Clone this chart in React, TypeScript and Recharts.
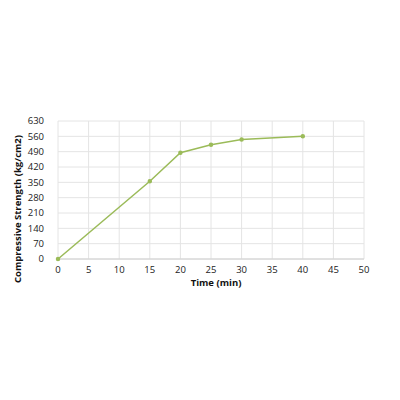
import { LineChart, Line, XAxis, YAxis, CartesianGrid } from 'recharts';

const times = [0, 15, 20, 25, 30, 40];
const strength = [0, 355, 485, 522, 546, 560];
const xTicks = [0, 5, 10, 15, 20, 25, 30, 35, 40, 45, 50];
const yTicks = [0, 70, 140, 210, 280, 350, 420, 490, 560, 630];

const data = times.map((t, i) => ({ time: t, strength: strength[i] }));

const GREEN = '#9bbb59';
const FONT = '"Open Sans", "Liberation Sans", sans-serif';
const labelStyle = { fontSize: 9.5, fontWeight: 700, fill: '#111', fontFamily: FONT };

export default function App() {
  return (
    <div style={{ position: 'absolute', left: 0, top: 0, width: 400, height: 400, background: '#fff' }}>
      <LineChart width={400} height={400} data={data} margin={{ top: 121, right: 36, bottom: 111, left: 0 }}>
        <CartesianGrid stroke="#e4e4e4" />
        <XAxis
          dataKey="time"
          type="number"
          domain={[0, 50]}
          ticks={xTicks}
          interval={0}
          height={30}
          axisLine={{ stroke: '#d0d0d0' }}
          tickLine={false}
          tick={{ fontSize: 9.5, fill: '#222', fontFamily: FONT }}
          tickMargin={1}
          label={{
            content: () => (
              <text x={216} y={283} textAnchor="middle" dominantBaseline="middle" style={labelStyle}>
                Time (min)
              </text>
            ),
          }}
        />
        <YAxis
          type="number"
          domain={[0, 630]}
          ticks={yTicks}
          interval={0}
          width={58}
          axisLine={false}
          tickLine={false}
          tick={{ fontSize: 9.5, fill: '#222', fontFamily: FONT }}
          tickMargin={8}
          label={{
            content: () => (
              <text x={18} y={209} transform="rotate(-90 18 209)" textAnchor="middle" dominantBaseline="middle" style={labelStyle}>
                Compressive Strength (kg/cm2)
              </text>
            ),
          }}
        />
        <Line
          type="linear"
          dataKey="strength"
          stroke={GREEN}
          strokeWidth={1.5}
          dot={{ r: 1.5, fill: GREEN, stroke: GREEN }}
          isAnimationActive={false}
        />
      </LineChart>
    </div>
  );
}
